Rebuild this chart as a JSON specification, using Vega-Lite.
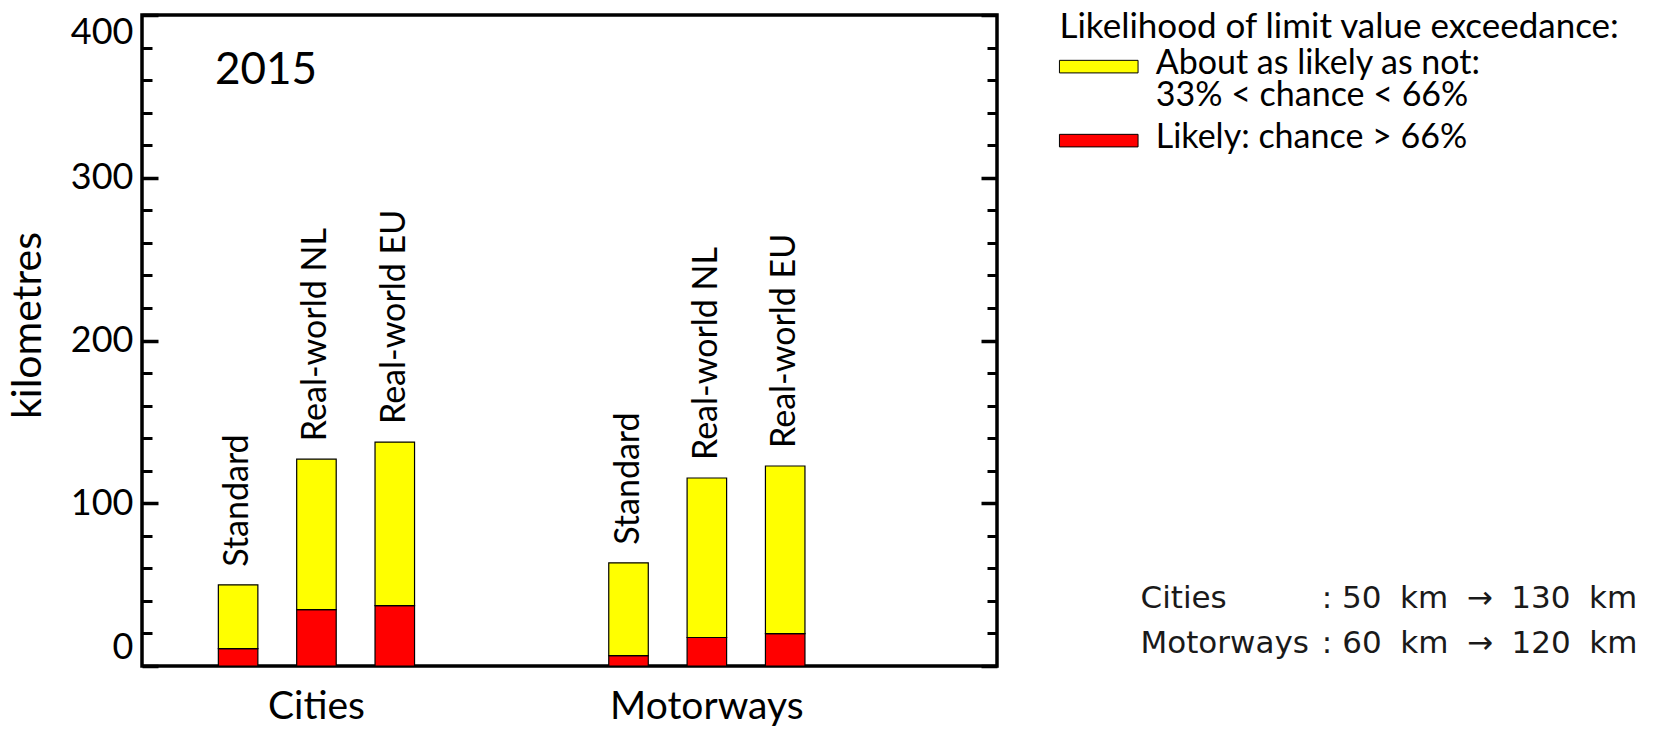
{
  "$schema": "https://vega.github.io/schema/vega-lite/v6.json",
  "width": 855,
  "height": 651,
  "autosize": {"type": "none"},
  "padding": {"left": 142, "top": 15, "right": 656, "bottom": 69},
  "background": "white",
  "title": {"text": "2015", "orient": "top", "anchor": "start", "frame": "group", "offset": 0, "dx": 73, "dy": 118, "baseline": "alphabetic", "fontSize": 44, "font": "Lato", "fontWeight": "normal", "color": "black"},
  "datasets": {
    "bars": [
      {"road": "Cities", "scenario": "Standard", "likelihood": "Likely: chance > 66%", "km": 10.7},
      {"road": "Cities", "scenario": "Standard", "likelihood": "About as likely as not: 33% < chance < 66%", "km": 39.2},
      {"road": "Cities", "scenario": "Real-world NL", "likelihood": "Likely: chance > 66%", "km": 34.6},
      {"road": "Cities", "scenario": "Real-world NL", "likelihood": "About as likely as not: 33% < chance < 66%", "km": 92.5},
      {"road": "Cities", "scenario": "Real-world EU", "likelihood": "Likely: chance > 66%", "km": 37.1},
      {"road": "Cities", "scenario": "Real-world EU", "likelihood": "About as likely as not: 33% < chance < 66%", "km": 100.5},
      {"road": "Motorways", "scenario": "Standard", "likelihood": "Likely: chance > 66%", "km": 6.4},
      {"road": "Motorways", "scenario": "Standard", "likelihood": "About as likely as not: 33% < chance < 66%", "km": 57.0},
      {"road": "Motorways", "scenario": "Real-world NL", "likelihood": "Likely: chance > 66%", "km": 17.5},
      {"road": "Motorways", "scenario": "Real-world NL", "likelihood": "About as likely as not: 33% < chance < 66%", "km": 98.0},
      {"road": "Motorways", "scenario": "Real-world EU", "likelihood": "Likely: chance > 66%", "km": 19.9},
      {"road": "Motorways", "scenario": "Real-world EU", "likelihood": "About as likely as not: 33% < chance < 66%", "km": 103.0}
    ],
    "notes": [
      {"note": "Cities\u00a0\u00a0\u00a0\u00a0\u00a0\u00a0\u00a0\u00a0\u00a0\u2009: 50\u2002\u200akm\u2002\u200a\u2192\u2002\u200a130\u2002\u200akm"},
      {"note": "Motorways\u00a0\u200a: 60\u2002\u200akm\u2002\u200a\u2192\u2002\u200a120\u2002\u200akm"}
    ]
  },
  "layer": [
    {
      "data": {"name": "bars"},
      "mark": {"type": "bar", "stroke": "black", "strokeWidth": 1.2},
      "encoding": {
        "x": {"field": "road", "type": "nominal",
          "scale": {"domain": ["Cities", "Motorways"], "paddingInner": 0.398, "paddingOuter": 0.294, "align": 0.248},
          "axis": {"title": null, "orient": "bottom", "domain": false, "ticks": false, "labelAngle": 0, "labelFont": "Lato", "labelFontSize": 39, "labelColor": "black", "labelBaseline": "alphabetic", "labelPadding": 52, "labelLimit": 600}},
        "xOffset": {"field": "scenario", "type": "nominal",
          "scale": {"domain": ["Standard", "Real-world NL", "Real-world EU"], "paddingInner": 0.4955, "paddingOuter": 0.2478}},
        "y": {"field": "km", "type": "quantitative", "stack": "zero",
          "scale": {"domain": [0, 400], "nice": false},
          "axis": {"orient": "left", "values": [0, 100, 200, 300, 400], "tickSize": -16, "tickWidth": 3.5, "tickColor": "black", "labelFlush": true, "labelFont": "Lato", "labelFontSize": 36, "labelColor": "black", "labelPadding": 25, "title": "kilometres", "titleFont": "Lato", "titleFontSize": 41, "titleFontWeight": "normal", "titleColor": "black", "titleX": -102, "titleY": 310, "titleBaseline": "alphabetic", "domain": false, "grid": false}},
        "color": {"field": "likelihood", "type": "nominal",
          "scale": {"domain": ["About as likely as not: 33% < chance < 66%", "Likely: chance > 66%"], "range": ["#ffff00", "#ff0000"]},
          "legend": {"orient": "none", "legendX": 917.5, "legendY": -5, "title": "Likelihood of limit value exceedance:", "titleFont": "Lato", "titleFontSize": 35, "titleFontWeight": "normal", "titleColor": "black", "titleLimit": 1000, "titlePadding": 2, "labelFont": "Lato", "labelFontSize": 34, "labelColor": "black", "labelLimit": 1000, "symbolType": "M-6,-0.56H6V1.36H-6Z", "symbolSize": 171.6, "symbolOffset": 22.25, "labelOffset": 40, "rowPadding": 8, "symbolStrokeColor": "black", "symbolStrokeWidth": 1, "symbolOpacity": 1,
            "labelExpr": "datum.label == 'Likely: chance > 66%' ? datum.label : ['About as likely as not:', '33% < chance < 66%']"}},
        "order": {"field": "likelihood", "sort": "descending"}
      }
    },
    {
      "data": {"name": "bars"},
      "transform": [{"aggregate": [{"op": "sum", "field": "km", "as": "total"}], "groupby": ["road", "scenario"]}],
      "mark": {"type": "text", "angle": 270, "align": "left", "baseline": "middle", "dx": 18, "font": "Lato", "fontSize": 34, "color": "black"},
      "encoding": {
        "x": {"field": "road", "type": "nominal"},
        "xOffset": {"field": "scenario", "type": "nominal"},
        "y": {"field": "total", "type": "quantitative", "axis": {"orient": "right", "values": [0, 100, 200, 300, 400], "tickSize": -16, "tickWidth": 3.5, "tickColor": "black", "labels": false, "title": null, "domain": false, "grid": false}},
        "text": {"field": "scenario"}
      }
    },
    {
      "data": {"name": "bars"},
      "transform": [{"aggregate": [{"op": "sum", "field": "km", "as": "total"}], "groupby": ["road", "scenario"]}],
      "mark": {"type": "point", "opacity": 0},
      "encoding": {
        "y": {"field": "total", "type": "quantitative", "axis": {"orient": "left", "values": [20, 40, 60, 80, 120, 140, 160, 180, 220, 240, 260, 280, 320, 340, 360, 380], "tickSize": -10, "tickWidth": 3, "tickColor": "black", "labels": false, "title": null, "domain": false, "grid": false}}
      }
    },
    {
      "data": {"name": "bars"},
      "transform": [{"aggregate": [{"op": "sum", "field": "km", "as": "total"}], "groupby": ["road", "scenario"]}],
      "mark": {"type": "point", "opacity": 0},
      "encoding": {
        "y": {"field": "total", "type": "quantitative", "axis": {"orient": "right", "values": [20, 40, 60, 80, 120, 140, 160, 180, 220, 240, 260, 280, 320, 340, 360, 380], "tickSize": -10, "tickWidth": 3, "tickColor": "black", "labels": false, "title": null, "domain": false, "grid": false}}
      }
    },
    {
      "data": {"name": "notes"},
      "mark": {"type": "point", "opacity": 0},
      "encoding": {
        "shape": {"field": "note", "type": "nominal",
          "legend": {"orient": "none", "legendX": 967.5, "legendY": 568, "title": null, "labelFont": "DejaVu Sans", "labelFontSize": 31, "labelColor": "#1a1a1a", "labelLimit": 1000, "labelOffset": 0, "symbolSize": 0, "symbolOpacity": 0, "symbolStrokeWidth": 0, "rowPadding": 13.5}}
      }
    }
  ],
  "resolve": {"axis": {"y": "independent"}},
  "config": {
    "view": {"stroke": "black", "strokeWidth": 3.5},
    "legend": {"padding": 0},
    "style": {"guide-label": {"lineHeight": 31.6}}
  }
}
